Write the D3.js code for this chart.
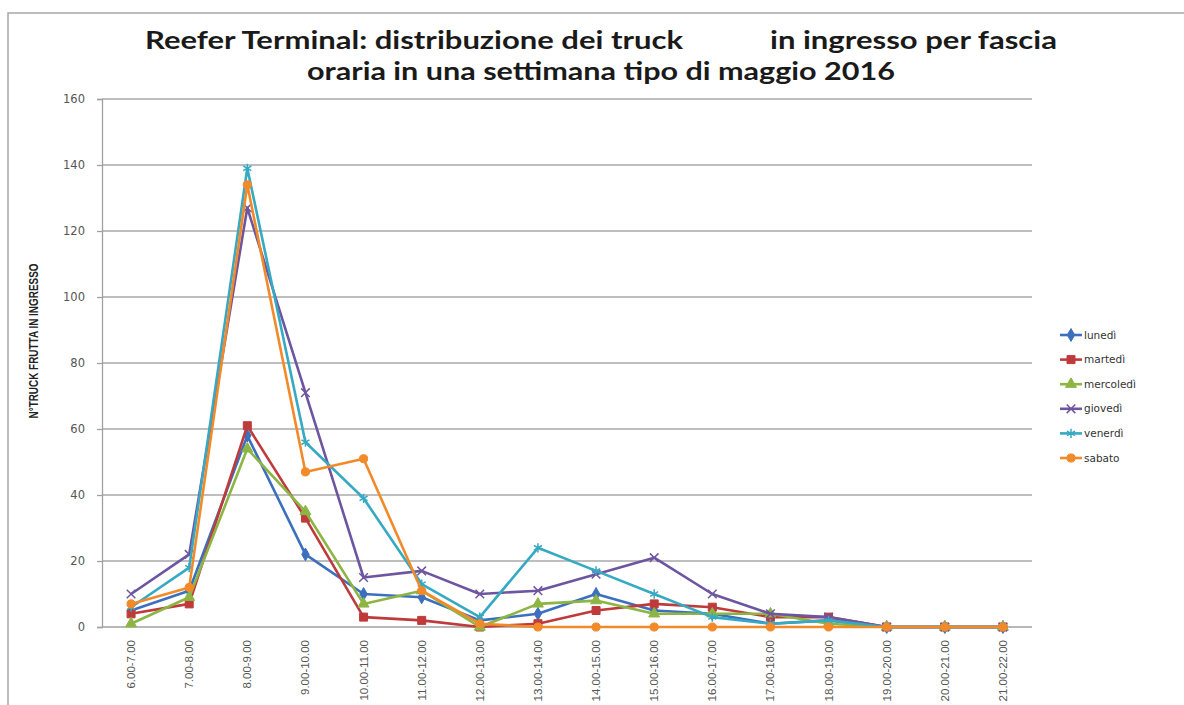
<!DOCTYPE html>
<html>
<head>
<meta charset="utf-8">
<script src="https://cdn.jsdelivr.net/npm/d3@7"></script>
<style>
  html, body { margin: 0; padding: 0; background: #fff; }
  svg { display: block; }
</style>
</head>
<body>
<svg id="chart" width="1184" height="705"></svg>
<script>
// Hourly time slots (x categories)
const categories = [
  "6.00-7.00", "7.00-8.00", "8.00-9.00", "9.00-10.00", "10.00-11.00",
  "11.00-12.00", "12.00-13.00", "13.00-14.00", "14.00-15.00", "15.00-16.00",
  "16.00-17.00", "17.00-18.00", "18.00-19.00", "19.00-20.00", "20.00-21.00",
  "21.00-22.00"
];

// Trucks entering per slot, one array per weekday
const lunedi    = [5, 11, 58, 22, 10, 9, 2, 4, 10, 5, 4, 1, 2, 0, 0, 0];
const martedi   = [4, 7, 61, 33, 3, 2, 0, 1, 5, 7, 6, 3, 3, 0, 0, 0];
const mercoledi = [1, 9, 54, 35, 7, 11, 0, 7, 8, 4, 4, 4, 1, 0, 0, 0];
const giovedi   = [10, 22, 127, 71, 15, 17, 10, 11, 16, 21, 10, 4, 3, 0, 0, 0];
const venerdi   = [6, 18, 139, 56, 39, 13, 3, 24, 17, 10, 3, 1, 2, 0, 0, 0];
const sabato    = [7, 12, 134, 47, 51, 11, 1, 0, 0, 0, 0, 0, 0, 0, 0, 0];

const seriesNames = ["lunedì", "martedì", "mercoledì", "giovedì", "venerdì", "sabato"];
const yTicks = [0, 20, 40, 60, 80, 100, 120, 140, 160];

const series = [
  { name: seriesNames[0], values: lunedi,    color: "#3d6fbf", symbol: d3.symbolDiamond,  size: 48, filled: true },
  { name: seriesNames[1], values: martedi,   color: "#bf3b3b", symbol: d3.symbolSquare,   size: 64, filled: true },
  { name: seriesNames[2], values: mercoledi, color: "#8db544", symbol: d3.symbolTriangle, size: 52, filled: true },
  { name: seriesNames[3], values: giovedi,   color: "#6e55a0", symbol: d3.symbolTimes,    size: 50, filled: false },
  { name: seriesNames[4], values: venerdi,   color: "#36a9c3", symbol: d3.symbolAsterisk, size: 60, filled: false },
  { name: seriesNames[5], values: sabato,    color: "#f28a2a", symbol: d3.symbolCircle,   size: 52, filled: true }
];

const svg = d3.select("#chart");

// Outer chart frame
svg.append("rect")
  .attr("x", 8).attr("y", 13)
  .attr("width", 1200).attr("height", 720)
  .attr("fill", "none").attr("stroke", "#a6a6a6").attr("stroke-width", 1.5);

// Title (two lines)
const titleFont = "Lato, 'Open Sans', sans-serif";
const title = svg.append("g").attr("font-family", titleFont).attr("font-weight", 700)
  .attr("font-size", 24).attr("fill", "#1a1a1a");
title.append("text").attr("x", 145).attr("y", 49)
  .attr("textLength", 538).attr("lengthAdjust", "spacingAndGlyphs")
  .text("Reefer Terminal: distribuzione dei truck");
title.append("text").attr("x", 770).attr("y", 49)
  .attr("textLength", 287).attr("lengthAdjust", "spacingAndGlyphs")
  .text("in ingresso per fascia");
title.append("text").attr("x", 307).attr("y", 80)
  .attr("textLength", 588).attr("lengthAdjust", "spacingAndGlyphs")
  .text("oraria in una settimana tipo di maggio 2016");

// Plot area
const plot = { left: 102, right: 1032, top: 99, bottom: 627 };

const x = d3.scaleBand()
  .domain(categories)
  .range([plot.left, plot.right])
  .paddingInner(0).paddingOuter(0);

const y = d3.scaleLinear()
  .domain([0, 160])
  .range([plot.bottom, plot.top]);

const cx = c => x(c) + x.bandwidth() / 2;

// Horizontal gridlines
svg.append("g")
  .selectAll("line")
  .data(yTicks.filter(t => t > 0))
  .join("line")
  .attr("x1", plot.left).attr("x2", plot.right)
  .attr("y1", d => y(d)).attr("y2", d => y(d))
  .attr("stroke", "#a9a9a9").attr("stroke-width", 1.3);

// Y axis
const yAxis = svg.append("g")
  .attr("transform", `translate(${plot.left},0)`)
  .call(d3.axisLeft(y).tickValues(yTicks).tickSize(5).tickPadding(12).tickFormat(d3.format("d")));
yAxis.select(".domain").attr("stroke", "#a0a0a0").attr("stroke-width", 1.3);
yAxis.selectAll(".tick line").attr("stroke", "#a0a0a0").attr("stroke-width", 1.3);
yAxis.selectAll(".tick text")
  .attr("font-family", "'DejaVu Sans', Verdana, sans-serif")
  .attr("font-size", 11.5).attr("fill", "#555");

// X axis baseline
svg.append("line")
  .attr("x1", plot.left).attr("x2", plot.right)
  .attr("y1", plot.bottom).attr("y2", plot.bottom)
  .attr("stroke", "#a0a0a0").attr("stroke-width", 1.3);

// X axis labels, rotated
const xAxis = svg.append("g")
  .attr("transform", `translate(0,${plot.bottom})`)
  .call(d3.axisBottom(x).tickSize(0).tickPadding(0));
xAxis.select(".domain").remove();
xAxis.selectAll(".tick text")
  .attr("font-family", "'Liberation Sans', Arial, sans-serif")
  .attr("font-size", 11.5).attr("fill", "#555")
  .attr("text-anchor", "end")
  .attr("dy", "0.35em")
  .attr("transform", "translate(0,13) rotate(-90)")
  .attr("x", 0).attr("y", 0);

// Y axis title
svg.append("text")
  .attr("transform", `translate(38,341) rotate(-90)`)
  .attr("text-anchor", "middle")
  .attr("font-family", "'Liberation Sans Narrow', 'Liberation Sans', Arial, sans-serif")
  .attr("font-weight", 700).attr("font-size", 13).attr("fill", "#222")
  .attr("textLength", 155).attr("lengthAdjust", "spacingAndGlyphs")
  .text("N°TRUCK FRUTTA IN INGRESSO");

// Series lines and markers
const line = d3.line()
  .x((d, i) => cx(categories[i]))
  .y(d => y(d));

series.forEach(s => {
  const g = svg.append("g");
  g.append("path")
    .attr("d", line(s.values))
    .attr("fill", "none")
    .attr("stroke", s.color)
    .attr("stroke-width", 2.6)
    .attr("stroke-linejoin", "round");
  g.selectAll("path.mk")
    .data(s.values)
    .join("path")
    .attr("class", "mk")
    .attr("transform", (d, i) => `translate(${cx(categories[i])},${y(d)})`)
    .attr("d", d3.symbol().type(s.symbol).size(s.size))
    .attr("fill", s.filled ? s.color : "none")
    .attr("stroke", s.color)
    .attr("stroke-width", s.filled ? 1 : 1.5);
});

// Legend
const legend = svg.append("g").attr("transform", "translate(1060,335)");
series.forEach((s, i) => {
  const g = legend.append("g").attr("transform", `translate(0,${i * 24.6})`);
  g.append("line").attr("x1", 0).attr("x2", 22).attr("y1", 0).attr("y2", 0)
    .attr("stroke", s.color).attr("stroke-width", 2.6);
  g.append("path")
    .attr("transform", "translate(11,0)")
    .attr("d", d3.symbol().type(s.symbol).size(s.size))
    .attr("fill", s.filled ? s.color : "none")
    .attr("stroke", s.color)
    .attr("stroke-width", s.filled ? 1 : 1.5);
  g.append("text").attr("x", 24).attr("y", 0).attr("dy", "0.35em")
    .attr("font-family", "'DejaVu Sans', Verdana, sans-serif")
    .attr("font-size", 10.5).attr("fill", "#333")
    .text(s.name);
});
</script>
</body>
</html>
